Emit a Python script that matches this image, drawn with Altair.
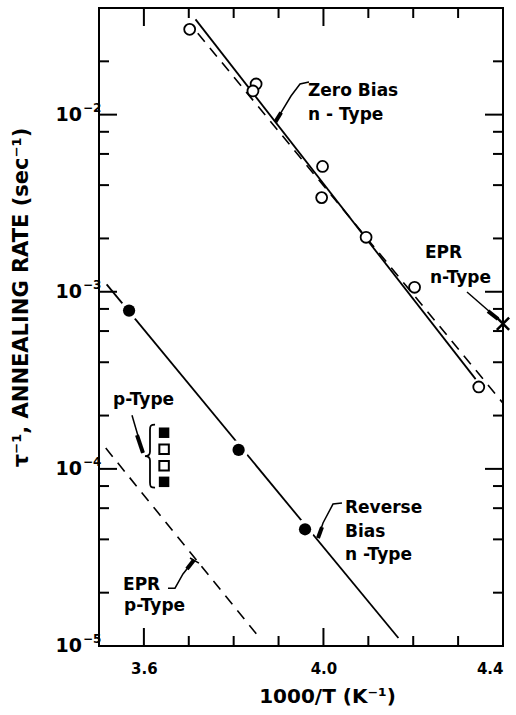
import altair as alt
import pandas as pd

FONT = "DejaVu Sans"

# ---------------- data ----------------
zero_x = [3.702, 3.850, 3.843, 3.998, 3.996, 4.095, 4.203, 4.346]
zero_y = [3.03e-2, 1.49e-2, 1.36e-2, 5.1e-3, 3.4e-3, 2.03e-3, 1.06e-3, 2.9e-4]
zero_fit_x = [3.715, 4.339]
zero_fit_y = [3.45e-2, 3.21e-4]
zero_dash_x = [3.720, 4.40]
zero_dash_y = [2.88e-2, 2.35e-4]
epr_n_x = [4.40]
epr_n_y = [6.6e-4]
rev_x = [3.567, 3.811, 3.959]
rev_y = [7.83e-4, 1.28e-4, 4.56e-5]
rev_fit_x = [3.517, 4.167]
rev_fit_y = [1.10e-3, 1.11e-5]
epr_p_x = [3.515, 3.858]
epr_p_y = [1.31e-4, 1.11e-5]
p_sq_x = [3.645, 3.645, 3.645, 3.645]
p_sq_y = [1.60e-4, 1.29e-4, 1.04e-4, 8.45e-5]
p_sq_filled = [True, False, False, True]

x_label_vals = [3.6, 4.0, 4.4]
x_major_ticks = [3.6, 4.0]
x_minor_ticks = [3.7, 3.8, 3.9, 4.1, 4.2, 4.3]
y_decades = [1e-5, 1e-4, 1e-3, 1e-2]
y_exponents = ["\u22125", "\u22124", "\u22123", "\u22122"]
y_minor_ticks = [m * d for d in y_decades for m in (2, 4, 6, 8) if m * d < 0.035]

# annotation texts and anchors (data units)
label_text = ["Zero Bias", "n - Type", "EPR", "n-Type", "Reverse", "Bias", "n -Type", "EPR", "p-Type", "p-Type"]
label_x = [3.9656, 3.9656, 4.2262, 4.2374, 4.048, 4.048, 4.048, 3.5535, 3.5557, 3.5312]
label_y = [0.01274, 9.33e-3, 1.551e-3, 1.12e-3, 5.63e-5, 4.12e-5, 3.06e-5, 2.07e-5, 1.58e-5, 2.29e-4]

# leader lines (one list per arrow)
lead_zero_x = [3.9678, 3.9478, 3.9277, 3.893]
lead_zero_y = [0.01528, 0.01489, 0.01274, 0.0091]
lead_eprn_x = [4.3198, 4.3889]
lead_eprn_y = [9.97e-4, 7.02e-4]
lead_rev_x = [4.0413, 4.0213, 3.999, 3.9879]
lead_rev_y = [6.42e-5, 6.33e-5, 4.95e-5, 4.07e-5]
lead_eprp_x = [3.6537, 3.6693, 3.6871, 3.7116]
lead_eprp_y = [2.12e-5, 2.12e-5, 2.55e-5, 3.06e-5]
lead_ptype_x = [3.5735, 3.598]
lead_ptype_y = [2.01e-4, 1.23e-4]
bar_eprp_x = [3.7027, 3.7227]
bar_eprp_y = [3.14e-5, 2.94e-5]
# arrow heads: (start, tip)
head_x = [[3.9057, 3.893], [4.3666, 4.3889], [3.9968, 3.9879], [3.696, 3.7116], [3.5847, 3.598]]
head_y = [[0.01028, 0.0091], [7.78e-4, 7.02e-4], [4.69e-5, 4.07e-5], [2.72e-5, 3.06e-5], [1.55e-4, 1.23e-4]]
brace_x = [3.6136]
brace_y = [1.18e-4]

# ---------------- chart ----------------
W, H = 404, 638
xs = alt.Scale(domain=[3.5, 4.4], nice=False, zero=False)
ys = alt.Scale(type="log", domain=[1e-5, 0.04], nice=False)

x_axis = alt.Axis(values=x_label_vals, format=".1f", ticks=False, domain=False, grid=False,
                  labelFont=FONT, labelFontSize=15, labelFontWeight="bold", labelColor="black",
                  labelPadding=15, title="1000/T (K\u207b\u00b9)", titleFont=FONT, titleFontSize=20,
                  titleFontWeight="bold", titleColor="black", titlePadding=10, titleX=228)
y_axis = alt.Axis(labels=False, ticks=False, domain=False, grid=False,
                  title="\u03c4\u207b\u00b9, ANNEALING RATE (sec\u207b\u00b9)", titleFont=FONT,
                  titleFontSize=21, titleFontWeight="bold", titleColor="black",
                  titleX=-78, titleY=289, titleAngle=-90, titleAlign="center", titleBaseline="middle")


def X():
    return alt.X("x:Q", scale=xs, axis=x_axis)


def Y():
    return alt.Y("y:Q", scale=ys, axis=y_axis)


def df(x, y):
    return pd.DataFrame({"x": x, "y": y})


layers = []

# fitted lines
layers.append(alt.Chart(df(zero_fit_x, zero_fit_y)).mark_line(color="black", strokeWidth=1.8)
              .encode(x=X(), y=Y()))
layers.append(alt.Chart(df(zero_dash_x, zero_dash_y)).mark_line(color="black", strokeWidth=1.6, strokeDash=[11, 8])
              .encode(x=X(), y=Y()))
layers.append(alt.Chart(df(rev_fit_x, rev_fit_y)).mark_line(color="black", strokeWidth=1.8)
              .encode(x=X(), y=Y()))
layers.append(alt.Chart(df(epr_p_x, epr_p_y)).mark_line(color="black", strokeWidth=1.6, strokeDash=[11, 8])
              .encode(x=X(), y=Y()))

# ticks (inward)
ymaj = pd.DataFrame({"y": y_decades})
ymin = pd.DataFrame({"y": y_minor_ticks})
xmaj = pd.DataFrame({"x": x_major_ticks})
xmin = pd.DataFrame({"x": x_minor_ticks})
for data, ln in ((ymaj, 18), (ymin, 10)):
    layers.append(alt.Chart(data).mark_rule(color="black", strokeWidth=2)
                  .encode(y=Y(), x=alt.value(0), x2=alt.value(ln)))
    layers.append(alt.Chart(data).mark_rule(color="black", strokeWidth=2)
                  .encode(y=Y(), x=alt.value(W), x2=alt.value(W - ln)))
for data, ln in ((xmaj, 18), (xmin, 10)):
    layers.append(alt.Chart(data).mark_rule(color="black", strokeWidth=2)
                  .encode(x=X(), y=alt.value(H), y2=alt.value(H - ln)))
    layers.append(alt.Chart(data).mark_rule(color="black", strokeWidth=2)
                  .encode(x=X(), y=alt.value(0), y2=alt.value(ln)))

# y tick labels 10^n
ylab = pd.DataFrame({"y": y_decades, "e": y_exponents})
layers.append(alt.Chart(ylab).mark_text(font=FONT, fontSize=19, fontWeight="bold", align="right",
                                        baseline="middle", color="black")
              .encode(y=Y(), x=alt.value(-17), text=alt.value("10")))
layers.append(alt.Chart(ylab).mark_text(font=FONT, fontSize=12, fontWeight="bold", align="left",
                                        baseline="middle", dy=-7, color="black")
              .encode(y=Y(), x=alt.value(-16), text="e:N"))

# annotation leader lines
lead_rows = []
for gi, (lx, ly) in enumerate([(lead_zero_x, lead_zero_y), (lead_eprn_x, lead_eprn_y),
                               (lead_rev_x, lead_rev_y), (lead_eprp_x, lead_eprp_y),
                               (lead_ptype_x, lead_ptype_y), (bar_eprp_x, bar_eprp_y)]):
    for oi, (a, b) in enumerate(zip(lx, ly)):
        lead_rows.append({"g": gi, "o": oi, "x": a, "y": b})
layers.append(alt.Chart(pd.DataFrame(lead_rows)).mark_line(color="black", strokeWidth=1.5)
              .encode(x=X(), y=Y(), detail="g:N", order="o:Q"))
head_rows = []
for gi, (hx, hy) in enumerate(zip(head_x, head_y)):
    for oi, (a, b) in enumerate(zip(hx, hy)):
        head_rows.append({"g": gi, "o": oi, "x": a, "y": b})
layers.append(alt.Chart(pd.DataFrame(head_rows)).mark_line(color="black", strokeWidth=4)
              .encode(x=X(), y=Y(), detail="g:N", order="o:Q"))

# brace
brace_path = ("M0.16,-1 C0.02,-1 0,-0.96 0,-0.84 L0,-0.14 C0,-0.05 -0.05,0 -0.16,0 "
              "C-0.05,0 0,0.05 0,0.14 L0,0.84 C0,0.96 0.02,1 0.16,1")
layers.append(alt.Chart(df(brace_x, brace_y)).mark_point(shape=brace_path, filled=False, color="black",
                                                         strokeWidth=1.8, size=3969, opacity=1)
              .encode(x=X(), y=Y()))

# data points
layers.append(alt.Chart(df(rev_x, rev_y)).mark_point(shape="circle", filled=True, color="white", size=400, opacity=1)
              .encode(x=X(), y=Y()))
layers.append(alt.Chart(df(rev_x, rev_y)).mark_point(shape="circle", filled=True, color="black", size=150, opacity=1)
              .encode(x=X(), y=Y()))
layers.append(alt.Chart(df(zero_x, zero_y)).mark_point(shape="circle", filled=True, fill="white", stroke="black",
                                                       strokeWidth=1.8, size=120, opacity=1)
              .encode(x=X(), y=Y()))
sq = pd.DataFrame({"x": p_sq_x, "y": p_sq_y, "f": p_sq_filled})
layers.append(alt.Chart(sq[sq["f"]]).mark_point(shape="square", filled=True, color="black", size=110, opacity=1)
              .encode(x=X(), y=Y()))
layers.append(alt.Chart(sq[~sq["f"]]).mark_point(shape="square", filled=True, fill="white", stroke="black",
                                                 strokeWidth=2, size=90, opacity=1)
              .encode(x=X(), y=Y()))
layers.append(alt.Chart(df(epr_n_x, epr_n_y)).mark_point(shape="M-1,-1L1,1M-1,1L1,-1", filled=False, color="black",
                                                         strokeWidth=2.5, size=150, opacity=1)
              .encode(x=X(), y=Y()))

# annotation texts
lab = pd.DataFrame({"x": label_x, "y": label_y, "t": label_text})
layers.append(alt.Chart(lab).mark_text(font=FONT, fontSize=17, fontWeight="bold", align="left",
                                       baseline="alphabetic", color="black")
              .encode(x=X(), y=Y(), text="t:N"))

chart = alt.layer(*layers).properties(
    width=W, height=H,
    autosize=alt.AutoSizeParams(type="none"),
    padding={"left": 99, "top": 8, "right": 13, "bottom": 69},
    background="white",
).configure_view(stroke="black", strokeWidth=2)

chart.save("out.html", embed_options={"renderer": "svg", "actions": False})
